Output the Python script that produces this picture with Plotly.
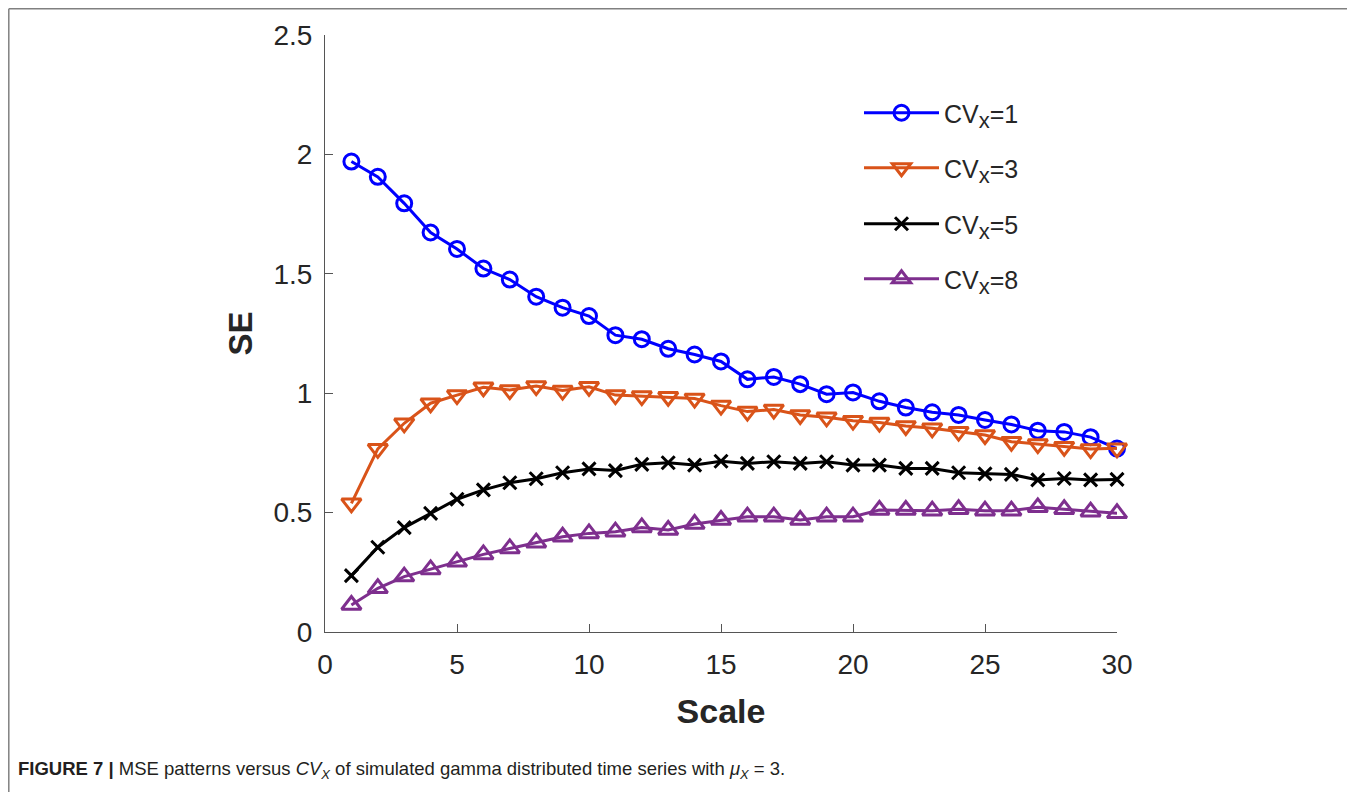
import plotly.graph_objects as go

scale = list(range(1, 31))
cv1 = [1.970, 1.906, 1.795, 1.673, 1.604, 1.522, 1.476, 1.404, 1.358, 1.323,
       1.243, 1.226, 1.186, 1.162, 1.133, 1.058, 1.068, 1.038, 0.996, 1.003,
       0.966, 0.940, 0.920, 0.909, 0.888, 0.869, 0.843, 0.838, 0.816, 0.768]
cv3 = [0.539, 0.767, 0.874, 0.958, 0.992, 1.025, 1.013, 1.030, 1.011, 1.027,
       0.992, 0.988, 0.985, 0.978, 0.948, 0.923, 0.932, 0.909, 0.899, 0.885,
       0.877, 0.863, 0.853, 0.839, 0.825, 0.797, 0.787, 0.776, 0.766, 0.769]
cv5 = [0.236, 0.355, 0.437, 0.497, 0.556, 0.595, 0.625, 0.642, 0.667, 0.683,
       0.676, 0.702, 0.709, 0.699, 0.715, 0.706, 0.713, 0.706, 0.713, 0.699,
       0.699, 0.685, 0.685, 0.667, 0.662, 0.660, 0.637, 0.643, 0.637, 0.639]
cv8 = [0.113, 0.183, 0.232, 0.262, 0.294, 0.325, 0.350, 0.374, 0.399, 0.413,
       0.420, 0.438, 0.427, 0.452, 0.469, 0.483, 0.483, 0.469, 0.483, 0.483,
       0.511, 0.511, 0.508, 0.514, 0.508, 0.508, 0.522, 0.514, 0.504, 0.497]

sub_x = "<sub><span style='font-size:22px'>x</span></sub>"
series_names = ["CV" + sub_x + "=1", "CV" + sub_x + "=3", "CV" + sub_x + "=5", "CV" + sub_x + "=8"]
series_values = [cv1, cv3, cv5, cv8]
colors = ["#0000FF", "#D95319", "#000000", "#7E2F8E"]
symbols = ["circle-open", "triangle-down-open", "x-thin-open", "triangle-up-open"]
sizes = [15, 17, 13, 17]

xticks = [0, 5, 10, 15, 20, 25, 30]
yticks = [0, 0.5, 1, 1.5, 2, 2.5]
ytick_labels = ["0", "0.5", "1", "1.5", "2", "2.5"]

# page has an 8px body margin: figure coords = page coords - 8
OFF = 8
W, H = 1355 - OFF, 792 - OFF
L, R, T, B = 325 - OFF, 1117 - OFF, 35 - OFF, 632 - OFF

fig = go.Figure()
legend_ids = ["legend", "legend2", "legend3", "legend4"]
for name, vals, col, sym, sz, lg in zip(series_names, series_values, colors, symbols, sizes, legend_ids):
    fig.add_trace(go.Scatter(
        x=scale, y=vals, name=name, mode="lines+markers",
        line=dict(color=col, width=3),
        marker=dict(symbol=sym, size=sz, color=col, line=dict(color=col, width=3)),
        cliponaxis=False, legend=lg,
    ))

axis_color = "#555555"
text_color = "#262626"
font_fam = "Liberation Sans, Arial, sans-serif"
fig.update_xaxes(
    range=[0, 30], tickvals=xticks, ticks="inside", ticklen=8, tickcolor=axis_color,
    showline=True, linecolor=axis_color, linewidth=1, showgrid=False, zeroline=False,
    tickfont=dict(family=font_fam, size=28, color=text_color),
    ticklabelstandoff=7,
    title=dict(text="<b>Scale</b>", font=dict(family=font_fam, size=34, color=text_color), standoff=20),
    automargin=False,
)
fig.update_yaxes(
    range=[0, 2.5], tickvals=yticks, ticktext=ytick_labels, ticks="inside", ticklen=8, tickcolor=axis_color,
    showline=True, linecolor=axis_color, linewidth=1, showgrid=False, zeroline=False,
    tickfont=dict(family=font_fam, size=28, color=text_color),
    ticklabelstandoff=6,
    title=dict(text="<b>SE</b>", font=dict(family=font_fam, size=33, color=text_color), standoff=10),
    automargin=False,
)

pw, ph = R - L, B - T
def px(xp):
    return (xp - OFF - L) / pw
def py(yp):
    return (B - (yp - OFF)) / ph

fig.add_shape(type="line", xref="paper", yref="paper", x0=px(8.8), x1=px(8.8), y0=py(8.8), y1=py(800),
              line=dict(color="#808080", width=1.5))
fig.add_shape(type="line", xref="paper", yref="paper", x0=px(8.8), x1=px(1360), y0=py(8.8), y1=py(8.8),
              line=dict(color="#808080", width=1.5))

fig.add_annotation(
    xref="paper", yref="paper", x=px(16), y=py(770), xanchor="left", yanchor="middle",
    text="<b>FIGURE 7 |</b> MSE patterns versus <i>CV<sub>X</sub></i> of simulated gamma distributed time series with <i>μ<sub>X</sub></i> = 3.",
    showarrow=False, font=dict(family=font_fam, size=18.5, color="#231f20"),
)

legend_y = [113, 168, 224, 279]
layout_legends = {}
for lg, ly in zip(legend_ids, legend_y):
    layout_legends[lg] = dict(
        x=px(859), y=py(ly), xanchor="left", yanchor="middle",
        font=dict(family=font_fam, size=25, color=text_color),
        bgcolor="rgba(0,0,0,0)", itemwidth=75,
    )

fig.update_layout(
    width=W, height=H,
    margin=dict(l=L, r=W - R, t=T, b=H - B, pad=0),
    paper_bgcolor="white", plot_bgcolor="white",
    showlegend=True,
    **layout_legends,
)

fig.write_html("out.html")
